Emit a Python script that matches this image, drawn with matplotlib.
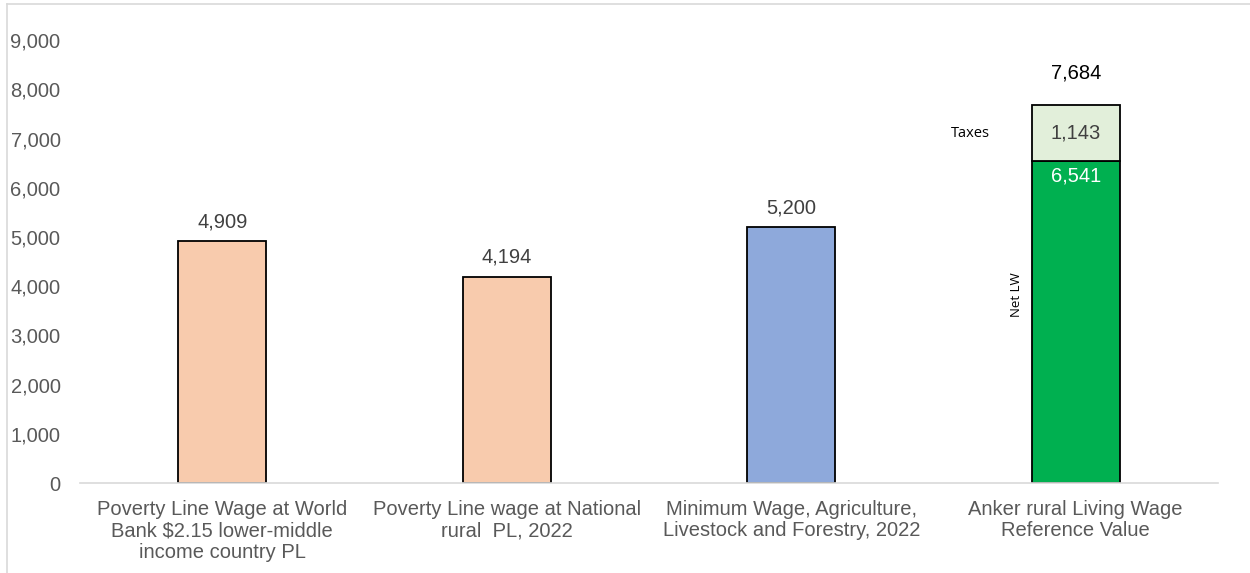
"""
Monthly wage benchmarks vs Anker rural living wage reference value.
"""
import matplotlib
matplotlib.use("Agg")
import matplotlib.pyplot as plt
from matplotlib.lines import Line2D
from matplotlib.ticker import FuncFormatter

categories = [
    "Poverty Line Wage at World\nBank $2.15 lower-middle\nincome country PL",
    "Poverty Line wage at National\nrural  PL, 2022",
    "Minimum Wage, Agriculture,\nLivestock and Forestry, 2022",
    "Anker rural Living Wage\nReference Value",
]
base_values = [4909, 4194, 5200, 6541]
taxes_values = [0, 0, 0, 1143]
bar_colors = ["#F8CBAD", "#F8CBAD", "#8EA9DB", "#00B050"]
tax_color = "#E2EFDA"
y_ticks = [0, 1000, 2000, 3000, 4000, 5000, 6000, 7000, 8000, 9000]

plt.rcParams["font.family"] = ["Liberation Sans", "DejaVu Sans"]
FS = 14.5

fig = plt.figure(figsize=(12.5, 5.73), dpi=100)
ax = fig.add_axes([0.064, 0.157, 0.9104, 0.773])

x = list(range(len(categories)))
width = 0.31
ax.bar(x, base_values, width=width, color=bar_colors, edgecolor="black", linewidth=1.3, zorder=2)
ax.bar(x[3], taxes_values[3], width=width, bottom=base_values[3], color=tax_color,
       edgecolor="black", linewidth=1.3, zorder=2)

# value labels
for i in range(3):
    ax.annotate(f"{base_values[i]:,}", (x[i], base_values[i]), xytext=(0, 7),
                textcoords="offset points", ha="center", va="bottom", fontsize=FS, color="#404040")
total = base_values[3] + taxes_values[3]
ax.annotate(f"{total:,}", (x[3], total), xytext=(0, 16), textcoords="offset points",
            ha="center", va="bottom", fontsize=FS, color="black")
ax.text(x[3], base_values[3] + taxes_values[3] / 2, f"{taxes_values[3]:,}", ha="center", va="center",
        fontsize=FS, color="#404040")
ax.annotate(f"{base_values[3]:,}", (x[3], base_values[3]), xytext=(0, -4), textcoords="offset points",
            ha="center", va="top", fontsize=FS, color="white")

# series names beside the stacked bar
ax.text(x[3] - 0.37, base_values[3] + taxes_values[3] / 2, "Taxes", ha="center", va="center",
        fontsize=10.5, color="black", family=["Open Sans", "DejaVu Sans"])
ax.text(x[3] - 0.21, 3820, "Net LW", ha="center", va="center", rotation=90,
        fontsize=9.5, color="black", family=["Open Sans", "DejaVu Sans"])

ax.set_xlim(-0.5, len(categories) - 0.5)
ax.set_ylim(0, 9000)
ax.set_yticks(y_ticks)
ax.yaxis.set_major_formatter(FuncFormatter(lambda v, p: f"{int(v):,}"))
ax.set_xticks(x)
ax.set_xticklabels(categories, fontsize=FS, color="#595959", linespacing=1.17)
ax.tick_params(axis="y", labelsize=FS, labelcolor="#595959", length=0, pad=14)
ax.tick_params(axis="x", length=0, pad=12)

for side in ["top", "right", "left"]:
    ax.spines[side].set_visible(False)
ax.spines["bottom"].set_color("#D9D9D9")
ax.spines["bottom"].set_linewidth(1.2)

# light chart border (left and top edges visible)
fig.add_artist(Line2D([0.0056, 0.0056], [0.0, 0.993], color="#D9D9D9", linewidth=1.2))
fig.add_artist(Line2D([0.0056, 1.0], [0.993, 0.993], color="#D9D9D9", linewidth=1.2))

fig.savefig("out.png", dpi=100)
